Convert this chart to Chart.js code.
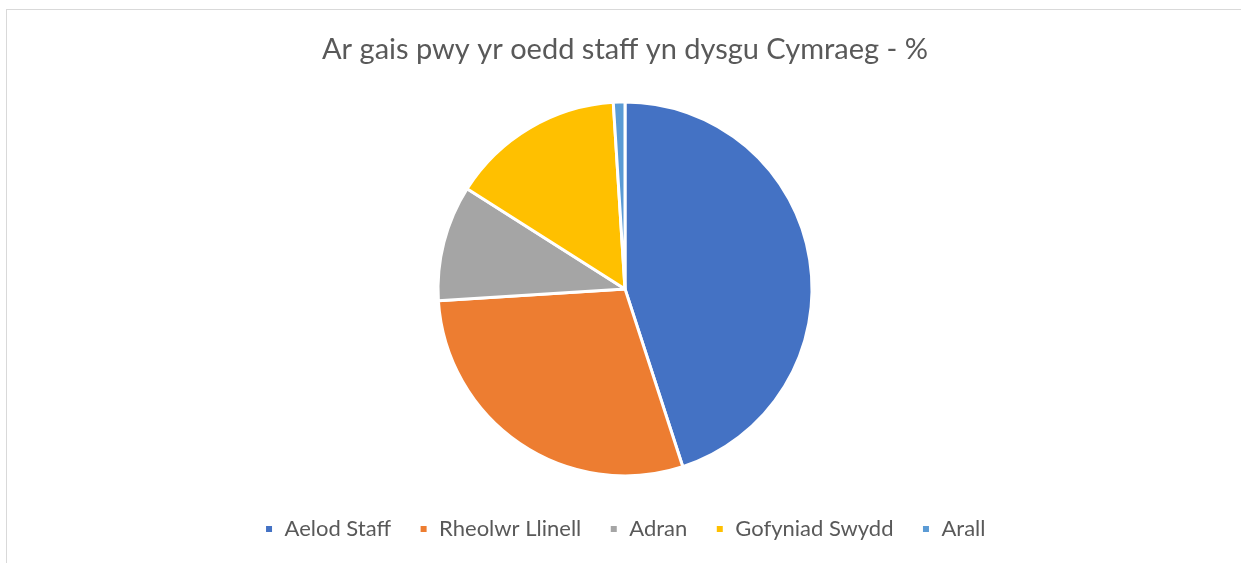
<!DOCTYPE html>
<html>
<head>
<meta charset="utf-8">
<script src="https://cdn.jsdelivr.net/npm/chart.js@4"></script>
<style>
  html, body { margin: 0; padding: 0; background: #fff; overflow: hidden; }
  #frame { position: absolute; left: 6px; top: 9px; width: 1240px; height: 600px; border: 1px solid #d9d9d9; box-sizing: border-box; }
  #wrap { position: absolute; left: 0; top: 0; width: 1241px; height: 563px; }
</style>
</head>
<body>
<div id="frame"></div>
<div id="wrap"><canvas id="myChart" width="1241" height="563"></canvas></div>
<script>
const titleText = "Ar gais pwy yr oedd staff yn dysgu Cymraeg - %";
const labels = ["Aelod Staff", "Rheolwr Llinell", "Adran", "Gofyniad Swydd", "Arall"];
const values = [45, 29, 10, 15, 1];
const colours = ["#4472C4", "#ED7D31", "#A5A5A5", "#FFC000", "#5B9BD5"];

const data = {
    labels: labels,
    datasets: [
        {
            data: values,
            backgroundColor: colours,
            borderColor: "#ffffff",
            borderWidth: 3,
            radius: 187,
        },
    ],
};

const config = {
    type: "pie",
    data,
    options: {
        responsive: false,
        animation: false,
        layout: {
            padding: { left: 9, right: 0, top: 0, bottom: 13 },
        },
        plugins: {
            title: {
                display: true,
                text: titleText,
                color: "#595959",
                font: { family: "Lato", size: 29, weight: "normal" },
                padding: { top: 32, bottom: 21 },
            },
            legend: {
                position: "bottom",
                labels: {
                    color: "#595959",
                    font: { family: "Lato", size: 22 },
                    boxWidth: 9,
                    boxHeight: 9,
                    padding: 28,
                },
            },
            tooltip: { enabled: false },
        },
    },
};

const myChart = new Chart(document.getElementById("myChart"), config);
</script>
</body>
</html>
